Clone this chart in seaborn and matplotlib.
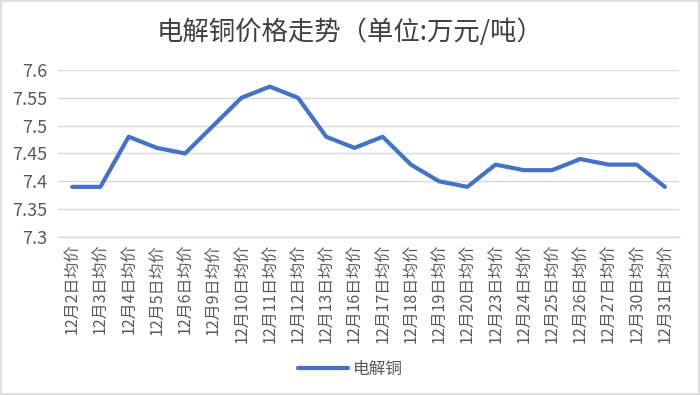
import matplotlib
matplotlib.use("Agg")
import matplotlib.pyplot as plt
import seaborn as sns
import pandas as pd
from matplotlib.patches import Rectangle

days = ["2", "3", "4", "5", "6", "9", "10", "11", "12", "13", "16",
        "17", "18", "19", "20", "23", "24", "25", "26", "27", "30", "31"]
categories = [f"12月{d}日均价" for d in days]
prices = [7.39, 7.39, 7.48, 7.46, 7.45, 7.50, 7.55, 7.57, 7.55, 7.48, 7.46,
          7.48, 7.43, 7.40, 7.39, 7.43, 7.42, 7.42, 7.44, 7.43, 7.43, 7.39]
series_name = "电解铜"
y_ticks = [7.3, 7.35, 7.4, 7.45, 7.5, 7.55, 7.6]
y_ticklabels = ["7.3", "7.35", "7.4", "7.45", "7.5", "7.55", "7.6"]

sns.set_theme(style="white")
plt.rcParams["font.family"] = ["Noto Sans CJK SC", "DejaVu Sans"]

df = pd.DataFrame({"日期": categories, "价格": prices, "系列": series_name})

fig = plt.figure(figsize=(7.0, 3.95), dpi=100)
ax = fig.add_axes([0.083, 0.40, 0.887, 0.423])

sns.lineplot(data=df, x="日期", y="价格", hue="系列", palette=["#4472C4"],
             linewidth=3, ax=ax, sort=False, legend=True)

ax.set_xlim(-0.5, len(categories) - 0.5)
ax.set_ylim(7.3, 7.6)
ax.set_yticks(y_ticks)
ax.set_yticklabels(y_ticklabels, fontsize=13, color="#595959")
ax.set_xticks(range(len(categories)))
ax.set_xticklabels(categories, rotation=90, fontsize=11.5, color="#595959",
                   va="top", ha="center")
ax.tick_params(axis="y", length=0, pad=8)
ax.tick_params(axis="x", length=0, pad=5)
ax.yaxis.grid(True, color="#D9D9D9", linewidth=1)
ax.set_axisbelow(True)
for s in ["top", "right", "left"]:
    ax.spines[s].set_visible(False)
ax.spines["bottom"].set_color("#D9D9D9")
ax.spines["bottom"].set_linewidth(1)
ax.set_xlabel("")
ax.set_ylabel("")

handles, labels = ax.get_legend_handles_labels()
ax.legend(handles=handles, labels=labels, loc="center",
          bbox_to_anchor=(0.5, 0.065), bbox_transform=fig.transFigure,
          frameon=False, fontsize=12, handlelength=3.0, handletextpad=0.3,
          labelcolor="#595959")

fig.text(0.5, 0.918, "电解铜价格走势（单位:万元/吨）", ha="center", va="center",
         fontsize=19, color="#404040")

fig.patches.append(Rectangle((0.002, 0.003), 0.996, 0.994, transform=fig.transFigure,
                             fill=False, edgecolor="#D9D9D9", linewidth=1.2))

fig.savefig("out.png", dpi=100, facecolor="white")
